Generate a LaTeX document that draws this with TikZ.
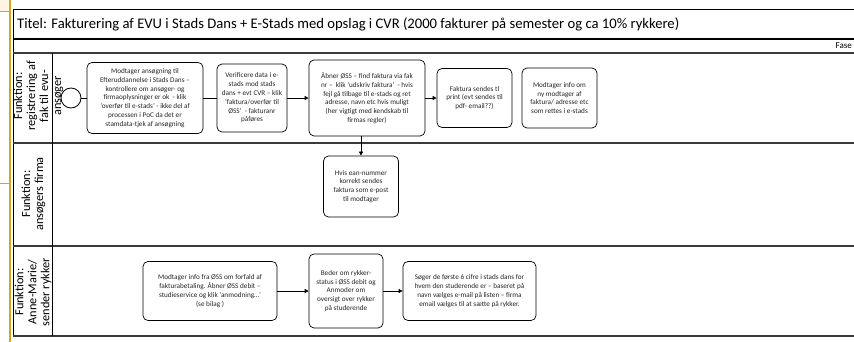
\documentclass[tikz,border=0pt]{standalone}
\usepackage{fontspec}
\setmainfont{Carlito}
\usetikzlibrary{arrows.meta}
\definecolor{orng}{RGB}{214,162,44}
\definecolor{beige}{RGB}{253,244,226}
\definecolor{lanegray}{RGB}{58,58,58}
\begin{document}
\begin{tikzpicture}[x=1pt,y=-1pt,
  proc/.style={draw=black, line width=0.7pt, rounded corners=5pt, fill=white,
    align=center, font=\fontsize{7.2}{8.8}\selectfont, inner sep=0pt,
    text=black!85},
  lanelbl/.style={rotate=90, align=center, font=\fontsize{12.3}{13}\selectfont, inner sep=0pt},
  conn/.style={line width=0.7pt, draw=black},
  arr/.style={conn, -{Triangle[length=4pt,width=4pt]}},
  lanesep/.style={draw=lanegray, line width=2pt}]
\useasboundingbox (0,0) rectangle (854,342);
% orange margin
\fill[beige] (0,0) rectangle (10,12);
\draw[orng, line width=1pt] (0,12) -- (10,12);
\draw[orng, line width=1pt] (0,183) -- (10,183);
\draw[orng, line width=1.4pt] (10,0) -- (10,342);
% frame
\draw[black, line width=1pt] (13,10) -- (854,10);
\draw[black, line width=1pt] (13,10) -- (13,337);
\draw[black, line width=1.3pt] (13,39) -- (854,39);
\draw[lanesep] (13,53) -- (854,53);
\draw[lanesep] (13,143) -- (854,143);
\draw[lanesep] (13,246) -- (854,246);
\draw[lanesep] (13,336) -- (854,336);
\draw[black, line width=0.8pt] (52,53) -- (52,336);
% title and phase
\node[anchor=west, font=\fontsize{14.65}{16}\selectfont, inner sep=0pt] (title) at (17,24)
  {Titel: Fakturering af EVU i Stads Dans + E-Stads med opslag i CVR (2000 fakturer på semester og ca 10\% rykkere)};
\node[anchor=east, font=\fontsize{9}{10}\selectfont, inner sep=0pt] (fase) at (852,46) {Fase};
% lane labels
\node[lanelbl] (l1) at (38.5,96) {Funktion:\\registrering af\\fak til evu-\\ansøger};
\node[lanelbl] (l2) at (33.5,194) {Funktion:\\ansøgers firma};
\node[lanelbl] (l3) at (33,292) {Funktion:\\Anne-Marie/\\sender rykker};
% lane 1
\node[draw=black, line width=0.8pt, circle, minimum size=20pt, inner sep=0pt, fill=white] (start) at (71,98) {};
\node[proc, minimum width=116pt, minimum height=71pt] (b1) at (145,98)
  {Modtager ansøgning til\\Efteruddannelse i Stads Dans –\\kontrollere om ansøger- og\\firmaoplysninger er ok \ - klik\\‘overfør til e-stads’ - ikke del af\\processen i PoC da det er\\stamdata-tjek af ansøgning};
\node[proc, minimum width=70pt, minimum height=68pt] (b2) at (252,98)
  {Verificere data i e-\\stads mod stads\\dans + evt CVR – klik\\‘faktura/overfør til\\ØSS’ \ - fakturanr\\påføres};
\node[proc, minimum width=116pt, minimum height=76pt] (b3) at (367,98)
  {Åbner ØSS – find faktura via fak\\nr – \ klik ‘udskriv faktura’ \ - hvis\\fejl gå tilbage til e-stads og ret\\adresse, navn etc hvis muligt\\(her vigtigt med kendskab til\\firmas regler)};
\node[proc, minimum width=75pt, minimum height=59pt] (b4) at (474.5,98)
  {Faktura sendes tl\\print (evt sendes til\\pdf- email??)};
\node[proc, minimum width=75pt, minimum height=60pt] (b5) at (559.5,98)
  {Modtager info om\\ny modtager af\\faktura/ adresse etc\\som rettes i e-stads};
% lane 2
\node[proc, minimum width=75pt, minimum height=61pt] (b6) at (361,186.5)
  {Hvis ean-nummer\\korrekt sendes\\faktura som e-post\\til modtager};
% lane 3
\node[proc, minimum width=134pt, minimum height=59pt] (b7) at (210,291)
  {Modtager info fra ØSS om forfald af\\fakturabetaling. Åbner ØSS debit –\\studieservice og klik ‘anmodning…’\\(se bilag )};
\node[proc, minimum width=74pt, minimum height=74pt] (b8) at (346,291)
  {Beder om rykker-\\status i ØSS debit og\\Anmoder om\\oversigt over rykker\\på studerende};
\node[proc, minimum width=133pt, minimum height=59pt] (b9) at (469.5,291)
  {Søger de første 6 cifre i stads dans for\\hvem den studerende er – baseret på\\navn vælges e-mail på listen – firma\\email vælges til at sætte på rykker.};
% connectors
\draw[conn] (start) -- (b1);
\draw[conn] (b1) -- (b2);
\draw[arr] (b2) -- (b3);
\draw[arr] (b3) -- (b4);
\draw[arr] (b6.north |- b3.south) -- (b6.north);
\draw[arr] (b7) -- (b8);
\draw[arr] (b8) -- (b9);
\end{tikzpicture}
\end{document}
